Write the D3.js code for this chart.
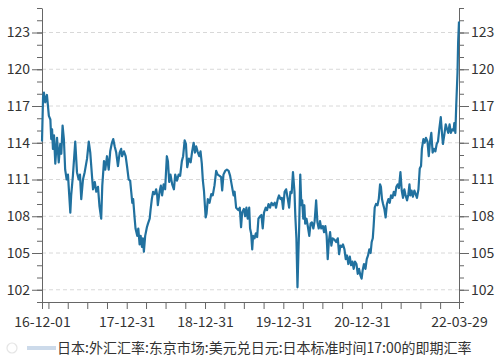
<!DOCTYPE html>
<html><head><meta charset="utf-8">
<script src="https://cdn.jsdelivr.net/npm/d3@7"></script>
<style>
body{margin:0;background:#fff}
svg{display:block}
text{font-family:"Noto Sans CJK SC","Noto Sans",sans-serif}
</style></head>
<body><svg id="chart" width="499" height="362"></svg>
<script>
// ---- data ----
const title = "日本:外汇汇率:东京市场:美元兑日元:日本标准时间17:00的即期汇率";
const xStart = "2016-12-01", xEnd = "2022-03-29";
const y2016 = [["2016-12-01",114.1],["2016-12-06",117.8],["2016-12-10",118.1],["2016-12-16",117.3],["2016-12-24",117.9]];
const y2017 = [["2017-01-02",116.2],["2017-01-09",115.9],["2017-01-13",114.3],["2017-01-17",115.1],["2017-01-21",113.5],["2017-01-26",114.6],["2017-02-01",112.3],["2017-02-09",114.4],["2017-02-17",112.4],["2017-02-24",113.9],["2017-03-01",113.1],["2017-03-07",115.4],["2017-03-13",114.3],["2017-03-19",111.8],["2017-03-26",111.0],["2017-04-01",111.4],["2017-04-12",108.3],["2017-04-16",109.7],["2017-04-24",111.3],["2017-05-05",114.1],["2017-05-13",111.6],["2017-05-21",111.0],["2017-05-27",111.4],["2017-06-02",109.4],["2017-06-10",111.0],["2017-06-18",111.6],["2017-06-29",112.7],["2017-07-07",114.1],["2017-07-14",113.2],["2017-07-22",111.3],["2017-07-27",110.2],["2017-08-04",110.8],["2017-08-11",110.0],["2017-08-19",110.4],["2017-08-26",108.8],["2017-09-03",107.8],["2017-09-08",110.5],["2017-09-16",112.5],["2017-09-22",111.8],["2017-09-30",112.9],["2017-10-08",111.8],["2017-10-15",113.3],["2017-10-23",114.0],["2017-10-29",114.3],["2017-11-05",113.7],["2017-11-12",113.2],["2017-11-20",112.1],["2017-11-28",113.2],["2017-12-05",113.5],["2017-12-09",112.9],["2017-12-18",113.3],["2017-12-26",112.9]];
const y2018 = [["2018-01-02",112.0],["2018-01-09",111.0],["2018-01-16",110.9],["2018-01-21",110.0],["2018-01-26",109.1],["2018-01-30",109.4],["2018-02-06",107.8],["2018-02-10",107.0],["2018-02-18",106.4],["2018-02-23",107.0],["2018-03-01",105.7],["2018-03-06",106.4],["2018-03-12",105.5],["2018-03-16",106.2],["2018-03-21",105.1],["2018-03-27",106.4],["2018-04-04",107.1],["2018-04-09",107.4],["2018-04-17",107.8],["2018-04-21",108.5],["2018-04-27",109.4],["2018-05-03",110.0],["2018-05-10",109.8],["2018-05-17",110.2],["2018-05-22",109.7],["2018-05-25",108.9],["2018-06-02",110.0],["2018-06-08",110.5],["2018-06-14",109.7],["2018-06-21",110.6],["2018-06-28",110.2],["2018-07-06",112.9],["2018-07-11",112.5],["2018-07-17",110.8],["2018-07-23",111.4],["2018-07-31",110.6],["2018-08-08",110.2],["2018-08-14",111.4],["2018-08-22",110.9],["2018-08-30",111.4],["2018-09-06",111.3],["2018-09-14",112.5],["2018-09-20",112.9],["2018-09-27",114.2],["2018-10-03",113.9],["2018-10-09",112.0],["2018-10-17",112.7],["2018-10-25",112.4],["2018-11-01",113.3],["2018-11-08",114.0],["2018-11-14",113.2],["2018-11-20",113.7],["2018-11-26",113.3],["2018-12-04",112.9],["2018-12-10",113.3],["2018-12-16",112.3],["2018-12-21",110.9],["2018-12-26",110.1]];
const y2019 = [["2019-01-03",107.9],["2019-01-07",108.2],["2019-01-13",109.4],["2019-01-21",109.1],["2019-01-29",109.8],["2019-02-05",109.7],["2019-02-13",110.5],["2019-02-21",111.7],["2019-02-28",111.4],["2019-03-09",111.3],["2019-03-16",111.2],["2019-03-21",110.1],["2019-03-27",111.4],["2019-04-04",111.7],["2019-04-12",111.8],["2019-04-20",111.7],["2019-04-27",111.3],["2019-05-05",110.5],["2019-05-13",109.7],["2019-05-18",110.0],["2019-05-25",108.7],["2019-05-30",108.6],["2019-06-05",108.5],["2019-06-11",108.7],["2019-06-17",107.1],["2019-06-22",108.3],["2019-06-30",108.6],["2019-07-06",108.0],["2019-07-12",108.7],["2019-07-18",107.8],["2019-07-25",108.7],["2019-07-29",107.0],["2019-08-03",106.6],["2019-08-08",105.3],["2019-08-12",106.4],["2019-08-19",106.2],["2019-08-25",106.6],["2019-08-31",106.3],["2019-09-06",107.8],["2019-09-14",108.0],["2019-09-20",108.1],["2019-09-26",107.0],["2019-10-02",108.3],["2019-10-10",108.7],["2019-10-16",108.5],["2019-10-23",109.0],["2019-10-30",108.7],["2019-11-06",109.1],["2019-11-13",108.9],["2019-11-21",109.1],["2019-11-27",108.7],["2019-12-05",109.4],["2019-12-11",109.7],["2019-12-18",109.4],["2019-12-24",109.5],["2019-12-30",108.6]];
const y2020 = [["2020-01-06",110.0],["2020-01-13",110.2],["2020-01-21",109.4],["2020-01-27",108.7],["2020-02-02",110.0],["2020-02-08",109.9],["2020-02-14",111.6],["2020-02-21",110.0],["2020-02-25",108.0],["2020-03-01",106.2],["2020-03-06",102.2],["2020-03-10",104.8],["2020-03-14",107.2],["2020-03-19",111.4],["2020-03-24",108.9],["2020-03-28",109.3],["2020-04-02",107.8],["2020-04-07",108.9],["2020-04-11",107.4],["2020-04-17",107.8],["2020-04-23",107.2],["2020-04-30",106.4],["2020-05-06",107.4],["2020-05-12",107.5],["2020-05-19",107.0],["2020-05-25",107.6],["2020-06-01",109.3],["2020-06-07",107.5],["2020-06-13",107.0],["2020-06-19",107.6],["2020-06-25",107.0],["2020-07-02",107.2],["2020-07-08",106.7],["2020-07-14",107.2],["2020-07-20",106.4],["2020-07-25",104.5],["2020-07-30",105.9],["2020-08-05",106.7],["2020-08-11",105.6],["2020-08-17",106.2],["2020-08-25",106.1],["2020-09-02",105.9],["2020-09-10",106.2],["2020-09-16",104.9],["2020-09-22",105.6],["2020-09-28",105.5],["2020-10-04",105.7],["2020-10-11",105.3],["2020-10-17",104.5],["2020-10-23",104.8],["2020-10-29",104.1],["2020-11-05",104.7],["2020-11-11",104.0],["2020-11-17",104.3],["2020-11-23",103.7],["2020-11-29",104.3],["2020-12-06",104.1],["2020-12-12",103.3],["2020-12-18",103.7],["2020-12-24",103.2],["2020-12-30",102.9]];
const y2021 = [["2021-01-04",103.6],["2021-01-10",104.1],["2021-01-17",103.7],["2021-01-23",104.5],["2021-01-29",104.8],["2021-02-04",105.3],["2021-02-10",105.0],["2021-02-15",105.9],["2021-02-20",106.2],["2021-02-24",107.2],["2021-03-01",108.7],["2021-03-07",109.0],["2021-03-14",108.9],["2021-03-20",109.4],["2021-03-26",110.6],["2021-03-30",110.4],["2021-04-04",109.4],["2021-04-09",109.0],["2021-04-15",108.6],["2021-04-21",107.9],["2021-04-27",109.0],["2021-05-04",109.4],["2021-05-10",109.1],["2021-05-16",109.7],["2021-05-23",109.5],["2021-05-29",110.0],["2021-06-04",109.7],["2021-06-10",110.4],["2021-06-16",110.6],["2021-06-22",110.3],["2021-06-29",111.6],["2021-07-05",110.1],["2021-07-11",109.5],["2021-07-17",110.2],["2021-07-23",109.7],["2021-07-30",109.3],["2021-08-05",109.8],["2021-08-10",110.6],["2021-08-14",109.7],["2021-08-20",110.1],["2021-08-26",109.6],["2021-09-02",110.1],["2021-09-08",109.8],["2021-09-14",109.5],["2021-09-21",110.2],["2021-09-27",111.9],["2021-10-03",112.1],["2021-10-07",113.5],["2021-10-14",114.3],["2021-10-20",114.0],["2021-10-26",114.4],["2021-11-02",114.1],["2021-11-08",112.9],["2021-11-14",114.1],["2021-11-20",114.8],["2021-11-26",113.2],["2021-12-02",113.5],["2021-12-09",113.3],["2021-12-15",113.9],["2021-12-21",114.1],["2021-12-27",115.1]];
const y2022 = [["2022-01-03",116.1],["2022-01-09",114.7],["2022-01-13",113.9],["2022-01-20",114.7],["2022-01-26",115.5],["2022-01-31",115.2],["2022-02-07",114.8],["2022-02-13",115.5],["2022-02-19",114.8],["2022-02-26",115.1],["2022-03-04",115.0],["2022-03-07",115.6],["2022-03-12",114.8],["2022-03-16",117.0],["2022-03-22",119.7],["2022-03-25",122.2],["2022-03-29",123.9]];

const xTickDates = ["2016-12-01","2016-12-31","2017-03-31","2017-06-30","2017-09-30","2017-12-31","2018-03-31","2018-06-30","2018-09-30","2018-12-31","2019-03-31","2019-06-30","2019-09-30","2019-12-31","2020-03-31","2020-06-30","2020-09-30","2020-12-31","2021-03-31","2021-06-30","2021-09-30","2021-12-31","2022-03-29"];
const xLabelDates = ["2016-12-01","2017-12-31","2018-12-31","2019-12-31","2020-12-31","2022-03-29"];
const yMajor = [102,105,108,111,114,117,120,123];
const yMinor = [101,102,103,104,105,106,107,108,109,110,111,112,113,114,115,116,117,118,119,120,121,122,123,124,125];
const yDomain = [101,125];

// ---- drawing ----
const svg = d3.select("#chart");
const parse = d3.timeParse("%Y-%m-%d");
const fmt = d3.timeFormat("%y-%m-%d");
const data = [].concat(y2016,y2017,y2018,y2019,y2020,y2021,y2022).map(([d,v])=>({date:parse(d),value:v}));

const L=42, R=459, T=8, B=302;
const x = d3.scaleTime().domain([parse(xStart),parse(xEnd)]).range([L,R]);
const y = d3.scaleLinear().domain(yDomain).range([B,T]);
const axisColor="#666", textColor="#333";

// grid
svg.append("g").selectAll("line").data(yMajor).join("line")
  .attr("x1",L).attr("x2",R).attr("y1",d=>y(d)).attr("y2",d=>y(d))
  .attr("stroke","#d8d8d8").attr("stroke-dasharray","4,3").attr("stroke-width",1);

function styleAxis(g){
  g.selectAll("path,line").attr("stroke",axisColor);
  g.selectAll("text").attr("fill",textColor).style("font-size","14px");
}
// left axis
svg.append("g").attr("transform",`translate(${L},0)`)
  .call(d3.axisLeft(y).tickValues(yMinor).tickSize(5).tickSizeOuter(0).tickFormat(""))
  .call(styleAxis);
svg.append("g").attr("transform",`translate(${L},0)`)
  .call(d3.axisLeft(y).tickValues(yMajor).tickSize(10).tickSizeOuter(0).tickPadding(2).tickFormat(d3.format("d")))
  .call(g=>g.select(".domain").remove()).call(styleAxis);
// right axis
svg.append("g").attr("transform",`translate(${R},0)`)
  .call(d3.axisRight(y).tickValues(yMinor).tickSize(5).tickSizeOuter(0).tickFormat(""))
  .call(styleAxis);
svg.append("g").attr("transform",`translate(${R},0)`)
  .call(d3.axisRight(y).tickValues(yMajor).tickSize(10).tickSizeOuter(0).tickPadding(2).tickFormat(d3.format("d")))
  .call(g=>g.select(".domain").remove()).call(styleAxis);
// bottom axis
const labelSet = new Set(xLabelDates);
svg.append("g").attr("transform",`translate(0,${B})`)
  .call(d3.axisBottom(x).tickValues(xTickDates.map(parse)).tickSize(7).tickSizeOuter(0).tickPadding(8)
    .tickFormat(d=>labelSet.has(d3.timeFormat("%Y-%m-%d")(d))?fmt(d):""))
  .call(styleAxis);

// line
svg.append("path").datum(data)
  .attr("fill","none").attr("stroke","#21719f").attr("stroke-width",2.2).attr("stroke-linejoin","round")
  .attr("d",d3.line().x(d=>x(d.date)).y(d=>y(d.value)));

// footer logo (faint) and source text
const logo = svg.append("g").attr("opacity",0.25);
logo.append("circle").attr("cx",12).attr("cy",348).attr("r",5).attr("fill","none").attr("stroke","#999").attr("stroke-width",1.2);
logo.append("rect").attr("x",27).attr("y",346).attr("width",29).attr("height",4).attr("fill","#3a6fb0");
svg.append("text").attr("x",57).attr("y",353).attr("fill",textColor).style("font-size","14px").text(title);
</script></body></html>
